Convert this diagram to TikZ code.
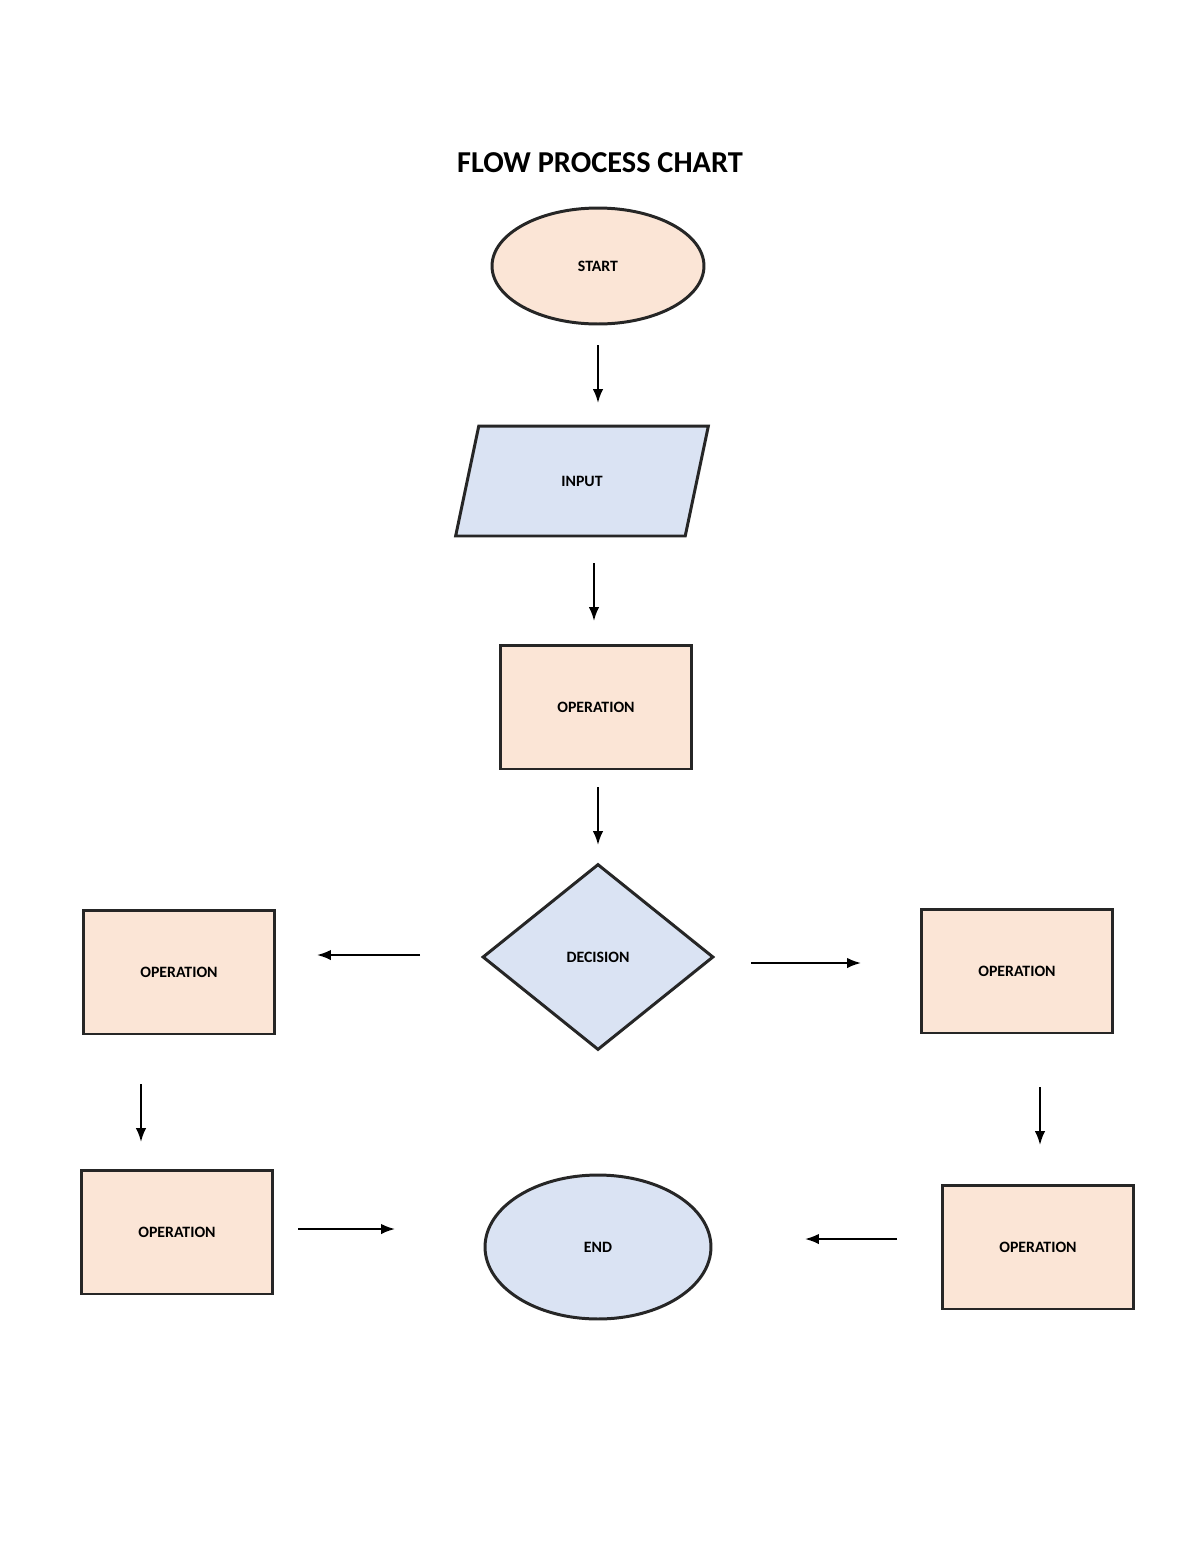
\documentclass[tikz,border=0pt]{standalone}
\usepackage{fontspec}
\setmainfont{Carlito}
\usetikzlibrary{shapes.geometric,arrows.meta}
\tikzset{>=Latex}
\definecolor{peach}{HTML}{FBE5D6}
\definecolor{paleblue}{HTML}{DAE3F3}
\colorlet{edge}{black!85}
\tikzstyle{box}=[draw=edge,line width=1.7pt,font=\bfseries\small,inner sep=0pt]
\tikzstyle{opbox}=[box,rectangle,fill=peach,minimum width=3.84cm,minimum height=2.48cm]
\tikzstyle{flow}=[->,line width=1.1pt]
\begin{document}
\begin{tikzpicture}[x=0.02cm,y=-0.02cm]
 \useasboundingbox[fill=white] (0,0) rectangle (1200,1553);
 \node[font=\bfseries\LARGE] (title) at (600,163) {FLOW PROCESS CHART};
 % main column
 \node[box,ellipse,fill=peach,minimum width=4.24cm,minimum height=2.32cm] (start) at (598,266) {START};
 \node[box,trapezium,trapezium left angle=66,trapezium right angle=114,trapezium stretches=true,
   fill=paleblue,minimum width=5.06cm,minimum height=2.2cm] (input) at (582,481) {INPUT};
 \node[opbox] (op) at (596,707) {OPERATION};
 \node[box,diamond,fill=paleblue,minimum width=4.62cm,minimum height=3.72cm] (decision) at (598,957) {DECISION};
 % branches
 \node[opbox] (opleft) at (179,972) {OPERATION};
 \node[opbox] (opright) at (1017,971) {OPERATION};
 \node[opbox] (opleftlow) at (177,1232) {OPERATION};
 \node[opbox] (oprightlow) at (1038,1247) {OPERATION};
 \node[box,ellipse,fill=paleblue,minimum width=4.52cm,minimum height=2.88cm] (end) at (598,1247) {END};
 % arrows
 \coordinate (a1) at (598,345); \coordinate (b1) at (598,403);
 \coordinate (a2) at (594,563); \coordinate (b2) at (594,621);
 \coordinate (a3) at (598,787); \coordinate (b3) at (598,845);
 \coordinate (a4) at (420,955); \coordinate (b4) at (317,955);
 \coordinate (a5) at (751,963); \coordinate (b5) at (861,963);
 \coordinate (a6) at (141,1084); \coordinate (b6) at (141,1142);
 \coordinate (a7) at (298,1229); \coordinate (b7) at (395,1229);
 \coordinate (a8) at (1040,1087); \coordinate (b8) at (1040,1145);
 \coordinate (a9) at (897,1239); \coordinate (b9) at (805,1239);
 \foreach \i in {1,...,9}
  \draw[flow] (a\i) -- (b\i);
\end{tikzpicture}
\end{document}
